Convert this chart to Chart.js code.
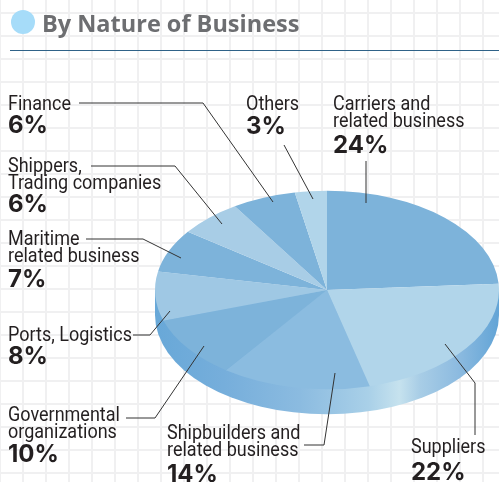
<!DOCTYPE html>
<html>
<head>
<meta charset="utf-8">
<title>By Nature of Business</title>
<script src="https://cdn.jsdelivr.net/npm/chart.js@4"></script>
<style>
    html, body { margin: 0; padding: 0; background: #fff; overflow: hidden; }
    #wrap {
        position: relative;
        width: 499px;
        height: 482px;
        background-color: #fff;
        background-image:
            linear-gradient(to right, #f0f0f1 2px, transparent 2px),
            linear-gradient(to bottom, #f0f0f1 2px, transparent 2px);
        background-size: 23px 23px;
        background-position: -1px 12px;
    }
    canvas { position: absolute; left: 0; top: 0; }
</style>
</head>
<body>
<div id="wrap"><canvas id="myChart" width="499" height="482"></canvas></div>
<script>
// Data
const categories = [
    'Carriers and\nrelated business', 'Suppliers', 'Shipbuilders and\nrelated business',
    'Governmental\norganizations', 'Ports, Logistics', 'Maritime\nrelated business',
    'Shippers,\nTrading companies', 'Finance', 'Others'
];
const shares = [24, 22, 14, 10, 8, 7, 6, 6, 3];
const sliceColors = [
    '#7db3da', '#b1d5ea', '#8bbce0', '#7db3da', '#9fc8e4',
    '#7db3da', '#a8cde6', '#7db3da', '#b1d5ea'
];

// Where each label sits and how its leader line runs (same order as categories)
const callouts = [
    { x: 333, y: 110, gap: 26, leader: [[366, 161], [366, 203]] },
    { x: 411, y: 453, gap: 27, leader: [[445, 344], [475, 383], [475, 435]] },
    { x: 167, y: 439, gap: 26, leader: [[304, 445], [324, 445], [335, 373]] },
    { x: 8, y: 421, gap: 24, leader: [[126, 418], [155, 418], [204, 346]] },
    { x: 8, y: 341, gap: 23, leader: [[133, 335], [150, 335], [170, 311]] },
    { x: 8, y: 245, gap: 25, leader: [[86, 239], [143, 239], [181, 258]] },
    { x: 8, y: 172, gap: 23, leader: [[91, 166], [175, 166], [222, 224]] },
    { x: 8, y: 110, gap: 23, leader: [[79, 103], [203, 103], [273, 202]] },
    { x: 246, y: 110, gap: 24, leader: [[284, 145], [313, 199]] }
];

const tilt = 0.577;      // squash of the pie into an ellipse
const rimDepth = 25;     // height of the side wall
const narrow = 0.9;      // labels are set in a condensed face

// Squash the pie and paint the side wall under it
const tiltPlugin = {
    id: 'tilt',
    beforeDatasetsDraw(chart) {
        const { ctx } = chart;
        const arc = chart.getDatasetMeta(0).data[0];
        const cx = arc.x, cy = arc.y, r = arc.outerRadius;

        const rim = ctx.createLinearGradient(cx - r, 0, cx + r, 0);
        rim.addColorStop(0, '#68a8d8');
        rim.addColorStop(0.2, '#76aedb');
        rim.addColorStop(0.42, '#8bbbe0');
        rim.addColorStop(0.62, '#a9d0e8');
        rim.addColorStop(0.71, '#c6e2ee');
        rim.addColorStop(0.77, '#a8cde6');
        rim.addColorStop(0.88, '#8dbbe0');
        rim.addColorStop(1, '#62a4d6');

        ctx.save();
        ctx.fillStyle = rim;
        ctx.beginPath();
        ctx.ellipse(cx, cy + rimDepth, r, r * tilt, 0, 0, Math.PI);
        ctx.lineTo(cx - r, cy);
        ctx.lineTo(cx + r, cy);
        ctx.closePath();
        ctx.fill();
        ctx.restore();

        ctx.save();
        ctx.translate(cx, cy);
        ctx.scale(1, tilt);
        ctx.translate(-cx, -cy);
    },
    afterDatasetsDraw(chart) {
        chart.ctx.restore();
    }
};

// Title, labels and leader lines
const labelPlugin = {
    id: 'labels',
    afterDraw(chart) {
        const { ctx } = chart;
        ctx.save();
        ctx.textBaseline = 'alphabetic';
        ctx.textAlign = 'left';

        ctx.fillStyle = '#a6dcf9';
        ctx.beginPath();
        ctx.arc(23, 22, 12, 0, Math.PI * 2);
        ctx.fill();

        ctx.fillStyle = '#6d6e71';
        ctx.font = '700 23.5px "Open Sans"';
        ctx.fillText('By Nature of Business', 42, 32);

        ctx.strokeStyle = '#2f6288';
        ctx.lineWidth = 1;
        ctx.beginPath();
        ctx.moveTo(10, 50.5);
        ctx.lineTo(499, 50.5);
        ctx.stroke();

        categories.forEach((name, i) => {
            const c = callouts[i];
            const lines = name.split('\n');
            ctx.fillStyle = '#231f20';
            ctx.font = '20px "Roboto"';
            lines.forEach((line, k) => {
                ctx.save();
                ctx.translate(c.x, c.y + k * 17);
                ctx.scale(narrow, 1);
                ctx.fillText(line, 0, 0);
                ctx.restore();
            });
            ctx.font = 'bold 24px "Inter"';
            ctx.fillText(shares[i] + '%', c.x, c.y + (lines.length - 1) * 17 + c.gap);

            ctx.strokeStyle = '#333333';
            ctx.beginPath();
            c.leader.forEach((p, k) => k ? ctx.lineTo(p[0], p[1]) : ctx.moveTo(p[0], p[1]));
            ctx.stroke();
        });
        ctx.restore();
    }
};

const ctx = document.getElementById('myChart').getContext('2d');
new Chart(ctx, {
    type: 'pie',
    data: {
        labels: categories,
        datasets: [{
            data: shares,
            backgroundColor: sliceColors,
            borderWidth: 0,
            clip: false
        }]
    },
    options: {
        responsive: false,
        animation: false,
        layout: { padding: { left: 155, top: 118, bottom: 20, right: 0 } },
        plugins: {
            legend: { display: false },
            tooltip: { enabled: false },
            title: { display: false }
        }
    },
    plugins: [tiltPlugin, labelPlugin]
});
</script>
</body>
</html>
